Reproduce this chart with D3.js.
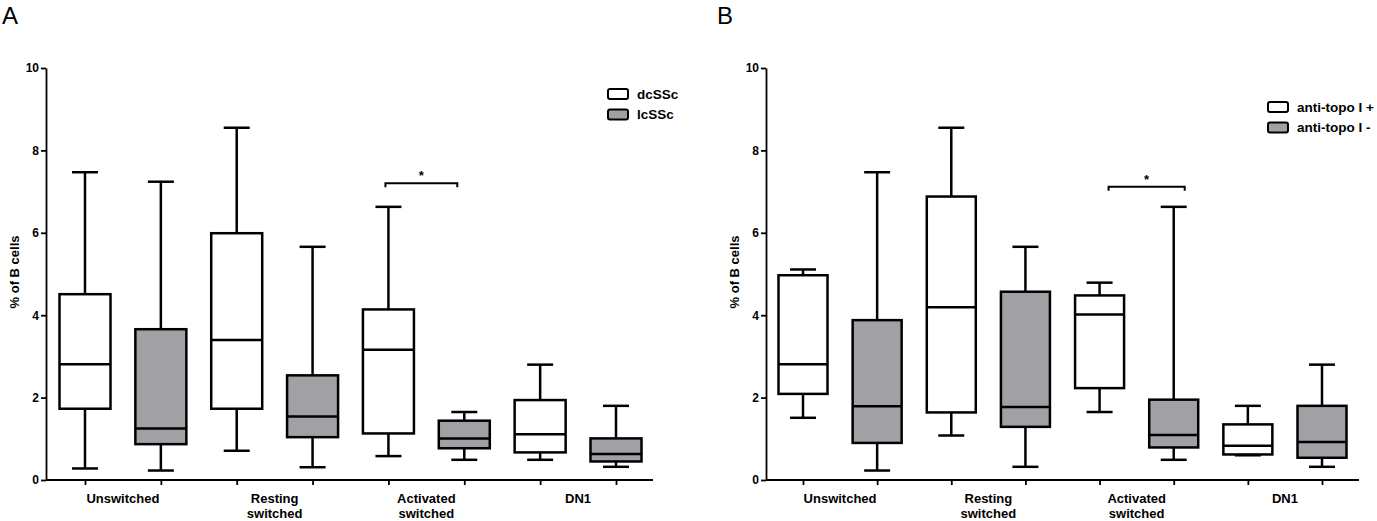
<!DOCTYPE html>
<html>
<head>
<meta charset="utf-8">
<script src="https://cdn.jsdelivr.net/npm/d3@7"></script>
<style>
  body { margin: 0; background: #fff; }
  svg { display: block; font-family: "Liberation Sans", Arial, sans-serif; }
</style>
</head>
<body>
<svg id="chart" width="1377" height="521"></svg>
<script>
// Categories (multi-line tick labels)
const categories = [["Unswitched"], ["Resting", "switched"], ["Activated", "switched"], ["DN1"]];
const yTicks = [0, 2, 4, 6, 8, 10];

// Box stats per category: [min, q1, median, q3, max]
// Panel A
const dcSSc = [
  [0.28, 1.73, 2.81, 4.51, 7.47],
  [0.71, 1.73, 3.40, 5.99, 8.55],
  [0.58, 1.13, 3.16, 4.14, 6.63],
  [0.49, 0.67, 1.11, 1.94, 2.80]
];
const lcSSc = [
  [0.23, 0.87, 1.25, 3.66, 7.24],
  [0.31, 1.04, 1.54, 2.54, 5.66],
  [0.49, 0.77, 1.01, 1.44, 1.65],
  [0.32, 0.45, 0.63, 1.01, 1.80]
];
// Panel B
const antiTopoPos = [
  [1.51, 2.09, 2.81, 4.97, 5.11],
  [1.08, 1.64, 4.19, 6.88, 8.55],
  [1.65, 2.23, 4.02, 4.48, 4.79],
  [0.60, 0.62, 0.83, 1.35, 1.80]
];
const antiTopoNeg = [
  [0.23, 0.90, 1.79, 3.88, 7.47],
  [0.32, 1.29, 1.77, 4.57, 5.66],
  [0.49, 0.79, 1.09, 1.95, 6.63],
  [0.32, 0.54, 0.92, 1.80, 2.80]
];

const white = "#ffffff";
const gray = "#a1a1a5";

const panels = [
  {
    letter: "A", letterX: 2, axisX: 46, axisEnd: 653, first: 85, last: 616, boxW: 51,
    series: [{ name: "dcSSc", values: dcSSc, fill: white }, { name: "lcSSc", values: lcSSc, fill: gray }],
    legendX: 608, legendY: 89, sig: { cat: 2, y: 7.2, dx1: -3, dx2: -7 }, labelX: 19
  },
  {
    letter: "B", letterX: 717, axisX: 766, axisEnd: 1359, first: 803, last: 1322, boxW: 49,
    series: [{ name: "anti-topo I +", values: antiTopoPos, fill: white }, { name: "anti-topo I -", values: antiTopoNeg, fill: gray }],
    legendX: 1268, legendY: 102, sig: { cat: 2, y: 7.12, dx1: 9, dx2: 11 }, labelX: 739
  }
];

const svg = d3.select("#chart");
const y = d3.scaleLinear().domain([0, 10]).range([480, 68]);
const capW = 26;
const sw = 2.5;

panels.forEach((p) => {
  const g = svg.append("g");

  // x positions for each box (category x series)
  const keys = [];
  categories.forEach((c, ci) => p.series.forEach((s, si) => keys.push(ci + "-" + si)));
  const x = d3.scalePoint().domain(keys).range([p.first, p.last]);

  // Panel letter
  g.append("text")
    .attr("x", p.letterX)
    .attr("y", 24)
    .attr("font-size", 24)
    .text(p.letter);

  // Y axis
  const yAxis = g.append("g")
    .attr("transform", `translate(${p.axisX},0)`)
    .call(d3.axisLeft(y).tickValues(yTicks).tickSizeInner(5).tickSizeOuter(0).tickPadding(2));
  yAxis.select(".domain").attr("stroke-width", 1.8);
  yAxis.selectAll(".tick line").attr("stroke-width", 1.8);
  yAxis.selectAll(".tick text").attr("font-size", 12).attr("font-weight", "bold").attr("font-family", null);

  // X axis
  const xAxis = g.append("g")
    .attr("transform", `translate(0,${y(0)})`)
    .call(d3.axisBottom(x).tickFormat("").tickSizeInner(5).tickSizeOuter(0));
  xAxis.select(".domain").remove();
  xAxis.selectAll(".tick line").attr("stroke-width", 1.8);
  xAxis.append("line")
    .attr("x1", p.axisX).attr("x2", p.axisEnd)
    .attr("stroke", "#000").attr("stroke-width", 1.8);

  // Category labels
  categories.forEach((lines, ci) => {
    const cx = (x(ci + "-0") + x(ci + "-1")) / 2;
    const t = g.append("text")
      .attr("text-anchor", "middle")
      .attr("font-size", 13)
      .attr("font-weight", "bold");
    lines.forEach((ln, li) => {
      t.append("tspan").attr("x", cx).attr("y", 503 + li * 15).text(ln);
    });
  });

  // Y label
  g.append("text")
    .attr("transform", `translate(${p.labelX},272) rotate(-90)`)
    .attr("text-anchor", "middle")
    .attr("font-size", 13)
    .attr("font-weight", "bold")
    .text("% of B cells");

  // Boxes
  p.series.forEach((s, si) => {
    const box = g.selectAll(null)
      .data(s.values.map((v, ci) => ({ v, cx: x(ci + "-" + si) })))
      .enter()
      .append("g");

    // whiskers
    box.append("line")
      .attr("x1", (d) => d.cx).attr("x2", (d) => d.cx)
      .attr("y1", (d) => y(d.v[0])).attr("y2", (d) => y(d.v[4]))
      .attr("stroke", "#000").attr("stroke-width", sw);
    [0, 4].forEach((k) => {
      box.append("line")
        .attr("x1", (d) => d.cx - capW / 2).attr("x2", (d) => d.cx + capW / 2)
        .attr("y1", (d) => y(d.v[k])).attr("y2", (d) => y(d.v[k]))
        .attr("stroke", "#000").attr("stroke-width", sw);
    });

    // box
    box.append("rect")
      .attr("x", (d) => d.cx - p.boxW / 2)
      .attr("width", p.boxW)
      .attr("y", (d) => y(d.v[3]))
      .attr("height", (d) => y(d.v[1]) - y(d.v[3]))
      .attr("fill", s.fill)
      .attr("stroke", "#000").attr("stroke-width", sw);

    // median
    box.append("line")
      .attr("x1", (d) => d.cx - p.boxW / 2).attr("x2", (d) => d.cx + p.boxW / 2)
      .attr("y1", (d) => y(d.v[2])).attr("y2", (d) => y(d.v[2]))
      .attr("stroke", "#000").attr("stroke-width", sw);
  });

  // Significance bracket
  const bx1 = x(p.sig.cat + "-0") + p.sig.dx1;
  const bx2 = x(p.sig.cat + "-1") + p.sig.dx2;
  const by = y(p.sig.y);
  g.append("path")
    .attr("d", `M${bx1},${by + 4}V${by}H${bx2}V${by + 4}`)
    .attr("fill", "none").attr("stroke", "#000").attr("stroke-width", 2);
  g.append("text")
    .attr("x", (bx1 + bx2) / 2)
    .attr("y", by - 3)
    .attr("text-anchor", "middle")
    .attr("font-size", 13)
    .attr("font-weight", "bold")
    .text("*");

  // Legend
  const legend = g.selectAll(".legend")
    .data(p.series)
    .enter()
    .append("g")
    .attr("transform", (d, i) => `translate(${p.legendX},${p.legendY + i * 20.5})`);
  legend.append("rect")
    .attr("width", 20).attr("height", 10).attr("rx", 2)
    .attr("fill", (d) => d.fill)
    .attr("stroke", "#000").attr("stroke-width", 2);
  legend.append("text")
    .attr("x", 29).attr("y", 5).attr("dy", "0.36em")
    .attr("font-size", 13.5).attr("font-weight", "bold")
    .text((d) => d.name);
});
</script>
</body>
</html>
